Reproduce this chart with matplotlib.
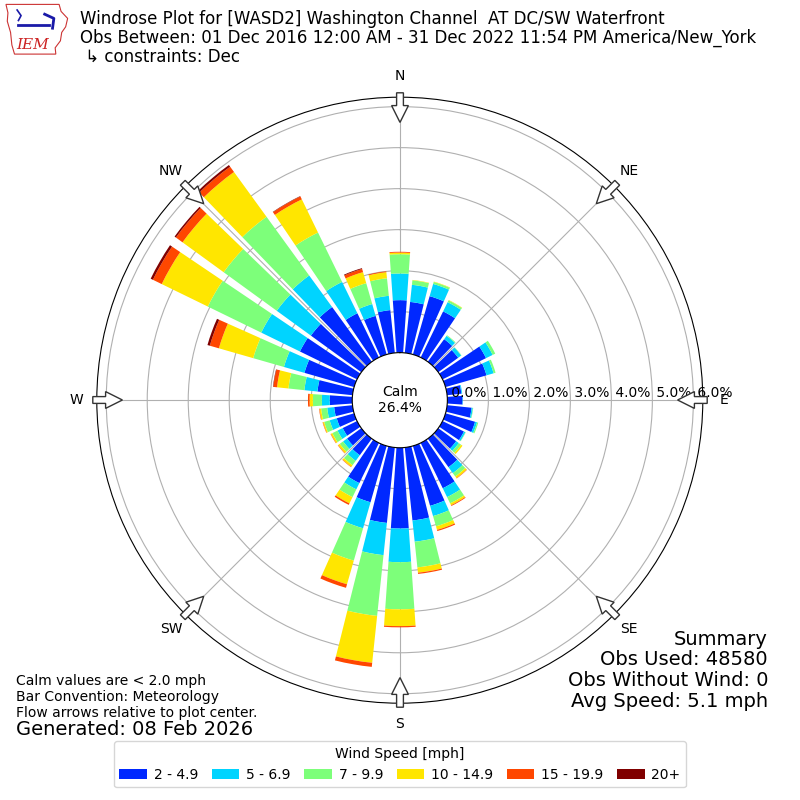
import numpy as np
import matplotlib.pyplot as plt
from matplotlib.patches import FancyArrow, Polygon

# direction bins (degrees, meteorological "from" direction)
directions = np.arange(0, 360, 10)

# percent frequency per speed bin, one value per direction
spd_2_5 = [1.28, 1.25, 1.48, 1.25, 0.68, 0.60, 1.18, 1.04, 0.35, 0.37,
           0.60, 0.75, 0.58, 0.54, 0.86, 1.23, 1.52, 1.79, 1.97, 1.85,
           1.43, 1.09, 0.50, 0.43, 0.39, 0.44, 0.45, 0.55, 0.86, 1.26,
           1.55, 1.52, 1.65, 1.20, 0.98, 1.05]
spd_5_7 = [0.65, 0.42, 0.31, 0.25, 0.10, 0.09, 0.18, 0.18, 0.02, 0.01,
           0.03, 0.05, 0.04, 0.08, 0.18, 0.24, 0.26, 0.52, 0.82, 0.79,
           0.66, 0.17, 0.17, 0.12, 0.14, 0.18, 0.17, 0.19, 0.32, 0.52,
           1.05, 1.03, 0.95, 0.85, 0.30, 0.35]
spd_7_10 = [0.47, 0.11, 0.05, 0.05, 0.02, 0.01, 0.07, 0.05, 0.0, 0.0,
            0.01, 0.03, 0.01, 0.07, 0.10, 0.17, 0.26, 0.63, 1.15, 1.49,
            0.82, 0.21, 0.13, 0.10, 0.14, 0.14, 0.15, 0.22, 0.39, 0.78,
            1.45, 1.60, 1.77, 1.34, 0.53, 0.43]
spd_10_15 = [0.04, 0.01, 0.01, 0.01, 0.0, 0.0, 0.0, 0.0, 0.0, 0.0,
             0.0, 0.0, 0.0, 0.04, 0.05, 0.05, 0.09, 0.13, 0.41, 1.15,
             0.60, 0.17, 0.05, 0.05, 0.04, 0.03, 0.04, 0.08, 0.28, 0.87,
             1.25, 1.24, 1.35, 0.90, 0.28, 0.15]
spd_15_20 = [0.02, 0.0, 0.0, 0.0, 0.0, 0.0, 0.0, 0.0, 0.0, 0.0,
             0.0, 0.0, 0.0, 0.0, 0.01, 0.02, 0.03, 0.03, 0.03, 0.10,
             0.09, 0.04, 0.01, 0.01, 0.01, 0.01, 0.01, 0.04, 0.09, 0.23,
             0.24, 0.20, 0.16, 0.08, 0.08, 0.02]
spd_20p = [0.0, 0.0, 0.0, 0.0, 0.0, 0.0, 0.0, 0.0, 0.0, 0.0,
           0.0, 0.0, 0.0, 0.0, 0.0, 0.0, 0.0, 0.0, 0.0, 0.0,
           0.0, 0.0, 0.0, 0.0, 0.0, 0.0, 0.0, 0.0, 0.01, 0.06,
           0.06, 0.04, 0.05, 0.01, 0.02, 0.0]

speed_bins = [spd_2_5, spd_5_7, spd_7_10, spd_10_15, spd_15_20, spd_20p]
speed_labels = ["2 - 4.9", "5 - 6.9", "7 - 9.9", "10 - 14.9", "15 - 19.9", "20+"]
speed_colors = ["#0028ff", "#00d4ff", "#7dff7a", "#ffe600", "#ff4700", "#800000"]

rticks = [0, 1, 2, 3, 4, 5, 6]
compass = ["N", "NE", "E", "SE", "S", "SW", "W", "NW"]
calm_pct = 26.4

title = ("Windrose Plot for [WASD2] Washington Channel  AT DC/SW Waterfront\n"
         "Obs Between: 01 Dec 2016 12:00 AM - 31 Dec 2022 11:54 PM America/New_York\n"
         " \u21b3 constraints: Dec")
notes = ("Calm values are < 2.0 mph\nBar Convention: Meteorology\n"
         "Flow arrows relative to plot center.")
summary = "Summary\nObs Used: 48580\nObs Without Wind: 0\nAvg Speed: 5.1 mph"


fig = plt.figure(figsize=(8, 8), dpi=100)
ax = fig.add_axes([0.121, 0.121, 0.7575, 0.7575], projection="polar")
ax.set_theta_zero_location("N")
ax.set_theta_direction(-1)
ax.set_rorigin(-1.16)
ax.set_ylim(0, 6.23)

theta = np.deg2rad(directions)
width = np.deg2rad(10) * 0.8
bottom = np.zeros(len(directions))
for vals, lab, col in zip(speed_bins, speed_labels, speed_colors):
    vals = np.array(vals)
    ax.bar(theta, vals, width=width, bottom=bottom, color=col,
           label=lab, zorder=2, linewidth=0)
    bottom += vals

# grid
ax.set_rticks(rticks)
ax.set_yticklabels([])
ax.set_thetagrids(np.arange(0, 360, 45), labels=[""] * 8)
ax.grid(True, color="#b0b0b0", lw=0.8, zorder=1)
ax.spines["polar"].set_zorder(3)
for r in rticks:
    ax.text(np.deg2rad(90), r, " %.1f%%" % r, ha="left", va="bottom",
            fontsize=10, zorder=5)

ax.text(0, -1.16, "Calm\n%.1f%%" % calm_pct, ha="center", va="center",
        fontsize=10, zorder=5)

# compass labels and inward flow arrows (figure coords, center 0.5, 0.5)
for i, lab in enumerate(compass):
    ang = np.deg2rad(i * 45)
    sx, sy = np.sin(ang), np.cos(ang)
    fig.text(0.5 + 0.405 * sx, 0.5 + 0.405 * sy, lab, ha="center",
             va="center", fontsize=10)
    fig.patches.append(FancyArrow(0.5 + 0.384 * sx, 0.5 + 0.384 * sy,
                                  -0.037 * sx, -0.037 * sy, width=0.0085,
                                  head_width=0.021, head_length=0.021,
                                  length_includes_head=True, fc="white",
                                  ec="#333333", lw=1,
                                  transform=fig.transFigure, zorder=10))

# header
fig.text(0.1, 0.987, title, ha="left", va="top", fontsize=12,
         linespacing=1.04)

# logo (simple IEM badge)
lax = fig.add_axes([0.005, 0.928, 0.082, 0.07])
lax.axis("off")
lax.set_xlim(0, 10)
lax.set_ylim(0, 8)
outline = [(0.3, 7.6), (8.4, 7.6), (8.7, 6.6), (9.7, 5.6), (9.4, 4.4),
           (8.8, 3.6), (8.6, 2.4), (7.8, 1.4), (7.9, 0.5), (1.6, 0.5),
           (1.2, 1.8), (1.0, 3.6), (0.5, 5.2), (0.6, 6.4)]
lax.add_patch(Polygon(outline, closed=True, fill=False, ec="#cc3333", lw=0.8))
lax.plot([2.2, 6.8], [4.7, 4.7], color="#1a1aa8", lw=2)
lax.plot([2.0, 2.6, 2.2], [6.8, 6.0, 5.3], color="#1a1aa8", lw=1.2)
lax.plot([6.2, 7.6, 7.4], [6.2, 5.6, 4.2], color="#1a1aa8", lw=2)
lax.text(1.8, 1.2, "IEM", color="#cc2222", fontsize=11, style="italic",
         family="DejaVu Serif")

# footer texts
fig.text(0.02, 0.158, notes, ha="left", va="top", fontsize=10,
         linespacing=1.2)
fig.text(0.02, 0.088, "Generated: 08 Feb 2026", ha="left", va="center",
         fontsize=14)
fig.text(0.96, 0.213, summary, ha="right", va="top", fontsize=14,
         multialignment="right", linespacing=1.12)

fig.legend(*ax.get_legend_handles_labels(), loc="lower center",
           bbox_to_anchor=(0.5, 0.007), ncol=6, fontsize=10,
           columnspacing=0.95, handletextpad=0.5,
           title="Wind Speed [mph]", title_fontsize=10)

fig.savefig("out.png", dpi=100)
